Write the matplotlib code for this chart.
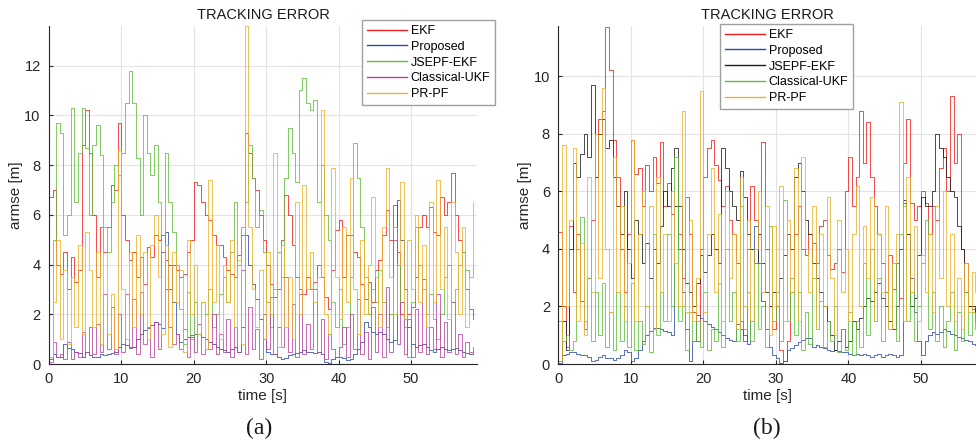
"""
Tracking error comparison, panels (a) and (b).
"""

import matplotlib

matplotlib.use('Agg')

import matplotlib.pyplot as plt
import numpy as np

# ---- data, panel (a): sampled every 0.5 s ----
LABELS = ['EKF', 'Proposed', 'JSEPF-EKF', 'Classical-UKF', 'PR-PF']

ekf_a = [
    6.7, 7.0, 4.0, 3.6, 4.5, 3.0, 4.3, 3.3, 3.8, 8.8,
    10.2, 8.5, 6.0, 3.5, 5.5, 4.5, 5.5, 7.2, 7.0, 9.7,
    6.0, 5.0, 4.2, 4.5, 3.5, 4.3, 3.2, 4.7, 4.3, 5.2,
    5.0, 5.2, 4.2, 3.0, 4.0, 3.8, 3.5, 3.6, 4.5, 5.0,
    7.3, 7.2, 6.5, 6.0, 5.8, 5.2, 4.8, 4.8, 4.3, 3.8,
    3.6, 3.5, 4.4, 5.2, 9.3, 8.5, 7.5, 7.0, 6.0, 5.0,
    4.0, 3.2, 2.7, 3.0, 5.0, 6.8, 6.0, 4.8, 3.5, 3.0,
    2.8, 3.5, 3.0, 3.3, 4.0, 3.5, 2.7, 2.2, 3.8, 5.4,
    5.8, 3.5, 5.2, 5.2, 4.5, 4.3, 3.2, 2.6, 3.3, 2.5,
    3.8, 4.2, 5.2, 6.2, 5.0, 6.4, 4.5, 2.0, 1.8, 2.0,
    2.3, 3.5, 5.5, 6.0, 5.5, 6.3, 5.3, 5.2, 6.7, 6.0,
    6.5, 7.7, 6.0, 5.0, 4.5, 3.0, 2.2, 1.8,
]
proposed_a = [
    0.2, 0.4, 0.3, 0.3, 0.8, 0.65, 0.6, 0.5, 0.45, 0.3,
    0.5, 0.35, 0.3, 0.3, 0.4, 0.35, 0.4, 0.45, 0.5, 0.7,
    0.8, 0.75, 0.65, 0.7, 1.0, 1.2, 1.35, 1.45, 1.55, 1.7,
    1.6, 1.45, 5.3, 4.0, 2.5, 1.2, 0.9, 1.0, 1.1, 1.15,
    1.2, 1.2, 1.1, 1.0, 0.9, 0.8, 0.7, 0.6, 0.55, 0.5,
    0.6, 0.7, 0.5, 1.5, 5.2, 4.0, 3.2, 2.6, 1.8, 1.0,
    0.5, 0.4, 0.4, 0.3, 0.2, 0.25, 0.35, 0.4, 0.45, 0.5,
    0.55, 0.5, 0.5, 0.45, 0.5, 0.4, 0.1, 0.05, 0.2, 0.3,
    0.3, 0.25, 0.15, 0.2, 0.4, 0.6, 0.9, 1.7, 1.5, 1.3,
    1.2, 1.3, 1.2, 1.0, 0.9, 0.95, 6.6, 5.0, 3.0, 1.5,
    0.8, 0.7, 0.75, 0.8, 0.7, 0.55, 0.5, 0.6, 0.7, 0.6,
    0.55, 0.6, 0.65, 0.55, 0.5, 0.45, 0.4, 0.45,
]
jsepf_a = [
    0.3, 5.0, 9.7, 9.3, 5.2, 6.0, 10.3, 6.5, 8.5, 10.3,
    8.7, 6.0, 8.8, 9.6, 8.4, 5.5, 4.5, 6.5, 8.0, 7.6,
    8.5, 10.5, 11.8, 10.5, 8.3, 6.0, 10.0, 8.5, 7.6, 8.8,
    6.5, 4.5, 8.5, 6.5, 5.3, 4.0, 2.2, 0.8, 2.9, 1.0,
    2.5, 1.2, 2.5, 2.0, 3.0, 1.5, 2.0, 2.8, 3.5, 2.5,
    4.5, 6.5, 4.0, 5.5, 6.5, 8.8, 7.5, 5.5, 6.2, 4.5,
    2.5, 1.5, 3.0, 4.5, 3.5, 7.5, 9.5, 8.5, 7.3, 11.0,
    11.5, 10.5, 10.2, 10.6, 6.5, 8.0, 6.0, 5.0, 2.5, 1.5,
    3.0, 0.8, 1.5, 3.5, 8.9, 7.5, 5.5, 3.5, 2.0, 3.0,
    2.5, 3.8, 2.5, 1.5, 2.0, 5.5, 4.0, 2.5, 1.5, 0.3,
    2.5, 5.5, 4.0, 3.0, 2.0, 2.8, 1.8, 1.0, 2.0, 3.5,
    4.0, 2.5, 3.0, 4.0, 4.5, 3.8, 3.5, 4.0,
]
ukf_a = [
    0.1, 0.9, 0.3, 0.4, 0.2, 0.9, 0.2, 0.5, 0.3, 1.3,
    0.5, 1.5, 0.4, 1.6, 0.5, 2.8, 0.6, 2.3, 0.4, 2.0,
    0.5, 2.8, 0.7, 2.6, 0.4, 2.9, 0.8, 1.5, 0.3, 1.7,
    0.6, 4.5, 3.0, 1.5, 0.8, 1.2, 0.6, 1.4, 0.3, 1.1,
    0.5, 1.6, 0.4, 1.0, 0.6, 2.0, 0.4, 1.2, 0.5, 1.8,
    0.3, 1.5, 0.5, 3.8, 0.4, 2.3, 0.6, 1.4, 0.2, 2.0,
    0.6, 2.7, 0.4, 1.5, 0.7, 3.5, 0.5, 2.4, 0.3, 2.8,
    0.4, 1.6, 0.6, 3.0, 0.5, 1.8, 0.2, 1.2, 0.6, 0.3,
    0.7, 1.5, 0.3, 2.0, 0.6, 2.6, 0.4, 1.3, 0.2, 2.3,
    0.5, 2.0, 0.3, 3.1, 0.5, 5.0, 0.8, 2.5, 0.4, 1.8,
    0.3, 2.2, 0.5, 3.4, 0.4, 1.5, 0.6, 2.8, 0.3, 1.7,
    0.5, 2.5, 0.4, 1.2, 0.3, 0.9, 0.5, 0.7,
]
prpf_a = [
    0.3, 2.5, 5.0, 1.0, 3.8, 0.8, 3.5, 1.5, 4.8, 1.2,
    5.3, 3.8, 1.5, 4.5, 0.8, 5.5, 1.2, 2.8, 0.6, 8.6,
    3.0, 1.0, 4.5, 1.5, 5.2, 2.0, 4.5, 1.0, 4.8, 6.0,
    3.5, 1.2, 4.8, 0.7, 4.5, 2.5, 3.8, 0.5, 5.0, 2.0,
    4.0, 1.2, 2.5, 0.6, 7.4, 2.5, 4.8, 1.0, 4.0, 2.5,
    5.0, 1.5, 4.2, 0.8, 13.6, 5.5, 3.0, 1.5, 3.8, 1.0,
    4.5, 2.0, 8.5, 0.7, 4.8, 1.5, 3.5, 1.0, 6.5, 2.0,
    7.2, 3.0, 4.5, 2.5, 3.5, 10.2, 2.0, 1.2, 7.9, 3.5,
    1.8, 5.5, 2.5, 7.5, 3.0, 1.2, 5.0, 2.0, 4.0, 6.7,
    3.5, 1.5, 5.5, 7.9, 3.5, 2.0, 4.0, 7.3, 1.8, 5.0,
    3.0, 6.0, 2.5, 4.8, 1.5, 6.5, 2.5, 7.4, 3.0, 5.5,
    1.8, 6.5, 4.5, 2.0, 5.5, 1.5, 3.5, 6.5,
]

# ---- data, panel (b): sampled every 0.5 s ----
ekf_b = [
    4.6, 2.0, 0.6, 4.8, 2.5, 4.5, 2.2, 1.2, 3.0, 5.0,
    6.5, 8.5, 8.8, 11.7, 10.2, 7.8, 6.5, 4.0, 2.5, 4.5,
    7.8, 6.6, 6.8, 5.5, 6.9, 6.0, 7.2, 6.3, 7.7, 5.5,
    6.3, 5.2, 5.5, 4.5, 3.0, 5.8, 4.5, 1.8, 0.8, 4.0,
    6.5, 7.5, 7.8, 6.9, 6.4, 5.5, 6.2, 5.0, 4.5, 3.5,
    1.5, 0.8, 4.0, 6.2, 5.0, 4.5, 7.7, 4.0, 2.0, 1.2,
    2.0, 0.5, 0.1, 0.8, 2.5, 4.5, 5.5, 4.0, 3.8, 4.5,
    4.2, 3.5, 4.8, 5.0, 3.8, 3.3, 3.5, 4.0, 3.2, 6.0,
    7.2, 5.5, 6.5, 8.8, 7.0, 8.4, 6.5, 5.5, 4.5, 3.5,
    2.5, 3.8, 2.6, 3.5, 2.3, 7.0, 8.5, 5.6, 5.0, 5.5,
    6.0, 5.6, 4.5, 5.5, 5.0, 6.8, 7.5, 6.0, 9.3, 7.0,
    8.0, 4.0, 3.5, 2.0, 1.9, 1.5,
]
proposed_b = [
    0.05, 0.3, 0.35, 0.4, 0.4, 0.35, 0.3, 0.3, 0.25, 0.1,
    0.15, 0.25, 0.3, 0.2, 0.2, 0.15, 0.2, 0.3, 0.5, 0.4,
    0.1, 0.2, 0.5, 0.8, 1.0, 1.15, 1.25, 1.25, 1.2, 1.15,
    1.1, 1.0, 5.5, 4.0, 2.5, 1.2, 0.1, 0.8, 1.7, 1.6,
    1.5, 1.4, 1.3, 1.2, 1.1, 1.0, 0.9, 0.85, 0.8, 1.4,
    1.2, 1.0, 0.7, 1.5, 4.8, 3.5, 2.2, 1.2, 0.6, 0.3,
    0.2, 0.05, 0.1, 0.5, 0.55, 0.65, 0.75, 0.85, 0.9, 0.9,
    0.6, 0.65, 0.6, 0.55, 0.5, 0.45, 0.5, 0.45, 0.4, 0.4,
    0.35, 0.3, 0.35, 0.3, 0.35, 0.3, 0.25, 0.3, 0.35, 0.25,
    0.3, 0.35, 0.3, 0.25, 0.3, 5.6, 4.5, 3.0, 1.8, 0.8,
    0.3, 0.8, 1.0, 1.1, 1.05, 1.1, 1.2, 1.15, 1.05, 1.0,
    0.95, 0.9, 0.85, 0.8, 0.7, 0.65,
]
jsepf_b = [
    0.1, 1.5, 0.5, 4.0, 7.0, 6.5, 7.3, 8.0, 7.2, 9.7,
    6.5, 8.0, 8.5, 7.5, 7.8, 6.5, 5.5, 4.5, 6.0, 4.0,
    3.0, 5.0, 4.5, 3.5, 4.2, 3.0, 4.0, 3.5, 4.8, 6.0,
    5.5, 6.8, 7.5, 5.5, 4.0, 2.8, 2.5, 2.0, 2.8, 3.8,
    3.2, 3.8, 4.5, 4.0, 3.5, 7.5, 6.8, 6.0, 5.5, 5.0,
    6.7, 5.8, 4.5, 4.0, 3.5, 4.5, 3.5, 2.5, 2.0, 2.5,
    2.0, 3.0, 3.8, 4.5, 4.0, 6.5, 7.0, 6.0, 5.0, 4.5,
    3.5, 3.0, 2.5, 2.0, 1.5, 1.0, 0.5, 0.8, 1.2, 0.6,
    0.8, 1.5, 1.2, 1.6, 2.0, 2.3, 2.2, 2.5, 2.8, 2.3,
    2.0, 1.5, 1.2, 2.0, 4.0, 5.7, 4.5, 2.0, 2.3, 3.8,
    5.8, 5.5, 5.5, 6.0, 8.0, 7.5, 7.2, 6.5, 6.0, 5.8,
    4.8, 4.0, 2.5, 2.0, 2.0, 1.8,
]
ukf_b = [
    1.5, 0.8, 1.0, 0.5, 0.8, 4.0, 5.1, 1.5, 3.0, 0.8,
    2.5, 1.0, 2.8, 0.6, 1.8, 0.5, 2.5, 0.8, 2.0, 0.6,
    2.8, 0.5, 1.5, 0.7, 2.0, 0.4, 4.5, 1.0, 2.5, 1.5,
    4.5, 2.0, 7.2, 1.5, 2.0, 0.5, 1.8, 0.8, 1.5, 0.6,
    2.5, 0.5, 1.2, 0.8, 2.8, 0.6, 4.0, 1.5, 2.5, 0.8,
    5.5, 1.2, 2.5, 0.8, 3.5, 1.2, 2.0, 0.6, 4.8, 1.5,
    2.5, 0.8, 5.7, 1.5, 3.0, 1.0, 2.5, 0.5, 1.8, 0.7,
    3.0, 1.2, 2.2, 0.6, 1.5, 0.8, 2.0, 0.4, 1.2, 0.5,
    1.8, 0.3, 1.5, 0.6, 3.5, 1.0, 4.0, 1.5, 3.0, 0.8,
    2.5, 1.2, 3.5, 0.8, 4.5, 5.5, 1.5, 2.5, 0.8, 2.0,
    3.5, 5.0, 1.2, 2.5, 0.8, 2.0, 0.6, 1.5, 2.5, 0.5,
    1.8, 0.8, 2.5, 1.0, 1.8, 1.2,
]
prpf_b = [
    0.1, 7.6, 2.0, 5.0, 7.5, 1.5, 4.2, 1.0, 6.5, 2.5,
    8.0, 3.0, 9.6, 4.0, 1.8, 7.2, 2.5, 5.5, 1.5, 3.5,
    7.8, 1.5, 4.5, 6.0, 2.0, 5.5, 1.2, 6.5, 2.5, 4.5,
    1.5, 6.0, 3.5, 2.0, 8.8, 1.8, 5.0, 1.5, 3.0, 9.5,
    1.8, 4.5, 6.8, 2.5, 5.2, 1.5, 6.0, 3.0, 4.5, 1.2,
    6.5, 2.0, 5.0, 1.5, 4.0, 6.0, 2.5, 5.5, 1.0, 4.8,
    2.0, 6.2, 1.5, 5.0, 2.5, 6.8, 1.5, 7.2, 4.0, 2.5,
    5.5, 1.2, 4.5, 2.0, 5.8, 3.0, 1.0, 5.0, 2.5, 4.0,
    1.5, 4.5, 6.2, 2.0, 4.8, 3.0, 5.8, 1.5, 4.5, 2.5,
    5.5, 1.2, 3.5, 4.5, 9.1, 1.5, 6.5, 2.5, 4.8, 1.5,
    3.8, 2.5, 4.5, 1.8, 5.5, 3.0, 6.0, 2.0, 4.5, 1.5,
    3.0, 1.2, 3.5, 1.8, 3.2, 2.5,
]

COLORS_A = ['#f21c1c', '#2b4aa3', '#5fbd3a', '#b8449f', '#eeb029']
COLORS_B = ['#f21c1c', '#2b4aa3', '#1a1a1a', '#5fbd3a', '#eeb029']
TEXT = '#262626'


def setup_style():
    plt.rcParams.update({
        'font.family': ['Liberation Sans', 'DejaVu Sans'],
        'font.size': 10,
        'axes.edgecolor': TEXT,
        'axes.linewidth': 0.8,
        'xtick.color': TEXT,
        'ytick.color': TEXT,
        'xtick.direction': 'in',
        'ytick.direction': 'in',
        'xtick.major.size': 3,
        'ytick.major.size': 3,
        'figure.facecolor': 'white',
    })


def draw_panel(ax, series, colors, xmax, ymax, legend_xy):
    """Draw one TRACKING ERROR panel."""
    for values, color, label in zip(series, colors, LABELS):
        t = np.arange(len(values)) * 0.5
        ax.plot(t, values, color=color, lw=0.65, alpha=0.85,
                drawstyle='steps-post', label=label)

    ax.set_xlim(0, xmax)
    ax.set_ylim(0, ymax)
    ax.set_xticks(np.arange(0, xmax, 10))
    ax.set_yticks(np.arange(0, ymax, 2))
    ax.grid(True, color='#e3e3e3', lw=0.8)
    ax.set_axisbelow(True)
    ax.spines['top'].set_visible(False)
    ax.spines['right'].set_visible(False)
    ax.tick_params(labelsize=10.5, pad=6)
    ax.set_title('TRACKING ERROR', fontsize=10.5, color='#1a1a1a', pad=5)
    ax.set_xlabel('time [s]', fontsize=11, color=TEXT, labelpad=2)
    ax.set_ylabel('armse [m]', fontsize=11, color=TEXT, labelpad=1)

    leg = ax.legend(loc='upper left', bbox_to_anchor=legend_xy,
                    bbox_transform=ax.figure.transFigure, fontsize=9,
                    frameon=True, fancybox=False, framealpha=1,
                    edgecolor='#a0a0a0', borderaxespad=0, borderpad=0.4,
                    labelspacing=0.3, handlelength=3.2, handletextpad=0.3)
    leg.get_frame().set_linewidth(1.0)
    for line in leg.get_lines():
        line.set_alpha(1)
        line.set_linewidth(1.0)


setup_style()
fig = plt.figure(figsize=(9.76, 4.45), dpi=100)
ax_a = fig.add_axes([0.0502, 0.182, 0.4385, 0.760])
ax_b = fig.add_axes([0.572, 0.182, 0.428, 0.760])

draw_panel(ax_a, [ekf_a, proposed_a, jsepf_a, ukf_a, prpf_a], COLORS_A,
           59.1, 13.6, (0.371, 0.955))
draw_panel(ax_b, [ekf_b, proposed_b, jsepf_b, ukf_b, prpf_b], COLORS_B,
           57.6, 11.75, (0.7377, 0.946))

fig.text(0.265, 0.038, '(a)', family='Liberation Serif', fontsize=17,
         ha='center', va='center', color='#1a1a1a')
fig.text(0.786, 0.038, '(b)', family='Liberation Serif', fontsize=17,
         ha='center', va='center', color='#1a1a1a')

fig.savefig('out.png', dpi=100, facecolor='white')
plt.close(fig)
